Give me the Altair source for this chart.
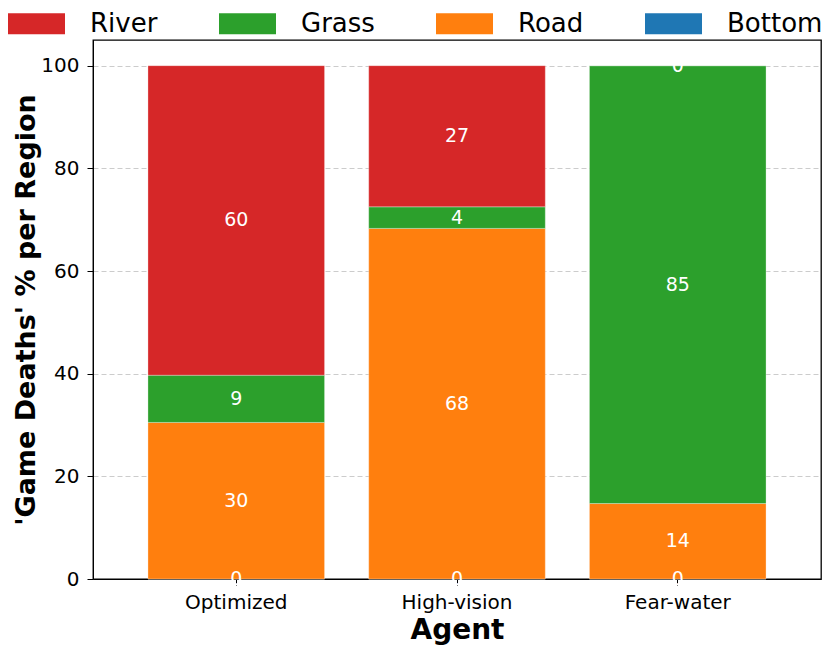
import altair as alt
import pandas as pd

agents = ["Optimized", "High-vision", "Fear-water"]
regions = ["Bottom", "Road", "Grass", "River"]
bottom = [0.0, 0.0, 0.0]
road = [30.5, 68.3, 14.7]
grass = [9.2, 4.2, 85.3]
river = [60.3, 27.5, 0.0]

legend_order = ["River", "Grass", "Road", "Bottom"]
colors = ["#d62728", "#2ca02c", "#ff7f0e", "#1f77b4"]
y_ticks = [0, 20, 40, 60, 80, 100]

series = {"Bottom": bottom, "Road": road, "Grass": grass, "River": river}
rows = []
for ri, reg in enumerate(regions):
    for ai, ag in enumerate(agents):
        rows.append({"agent": ag, "region": reg, "order": ri, "value": series[reg][ai]})
df = pd.DataFrame(rows)

FONT = "DejaVu Sans"
W, H = 728, 539

base = alt.Chart(df).transform_stack(
    stack="value", groupby=["agent"], sort=[alt.SortField("order", order="ascending")],
    as_=["y0", "y1"]
).transform_calculate(
    mid="(datum.y0 + datum.y1) / 2",
    lab="format(floor(datum.value), 'd')"
)

xenc = alt.X("agent:N", sort=agents,
             scale=alt.Scale(paddingInner=0.2, paddingOuter=0.249),
             axis=alt.Axis(title="Agent", labelAngle=0, labelFontSize=20, labelColor="black",
                           labelPadding=7, tickSize=6, tickColor="black", domainColor="black",
                           titleFontSize=28, titleFontWeight="bold", titleColor="black",
                           titleX=W / 2, titleY=59, titleBaseline="alphabetic", grid=False))

bars = base.mark_bar(stroke="white", strokeWidth=0.5, strokeOpacity=0.6).encode(
    x=xenc,
    y=alt.Y("y0:Q", scale=alt.Scale(domain=[0, 105], nice=False, zero=True),
            axis=alt.Axis(title="'Game Deaths' % per Region", values=y_ticks,
                          labelFontSize=20, labelColor="black", labelPadding=8,
                          tickSize=6, tickColor="black", domainColor="black",
                          titleFontSize=27, titleFontWeight="bold", titleColor="black",
                          titleX=-59, titleY=H / 2, titleAngle=-90, titleAlign="center",
                          titleBaseline="alphabetic",
                          grid=True, gridDash=[5, 3], gridColor="#cccccc", gridWidth=1)),
    y2="y1:Q",
    color=alt.Color("region:N", scale=alt.Scale(domain=legend_order, range=colors),
                    legend=alt.Legend(orient="none", direction="horizontal", columns=4,
                                      legendX=-85, legendY=-45, title=None,
                                      symbolType="M-1,-0.368L1,-0.368L1,0.368L-1,0.368Z",
                                      symbolSize=3249, symbolStrokeWidth=0,
                                      labelFontSize=26, labelColor="black", labelOffset=25,
                                      columnPadding=61, padding=0)),
)

texts = base.mark_text(color="white", fontSize=19, baseline="middle", align="center").encode(
    x=alt.X("agent:N", sort=agents),
    y=alt.Y("mid:Q"),
    text="lab:N",
)

chart = alt.layer(bars, texts).properties(
    width=W, height=H,
    autosize=alt.AutoSizeParams(type="none"),
    padding={"left": 85, "top": 32, "right": 1, "bottom": 67},
).configure(font=FONT).configure_view(stroke="black", strokeWidth=1.3)

chart.save("out.html", embed_options={"renderer": "svg", "actions": False})
